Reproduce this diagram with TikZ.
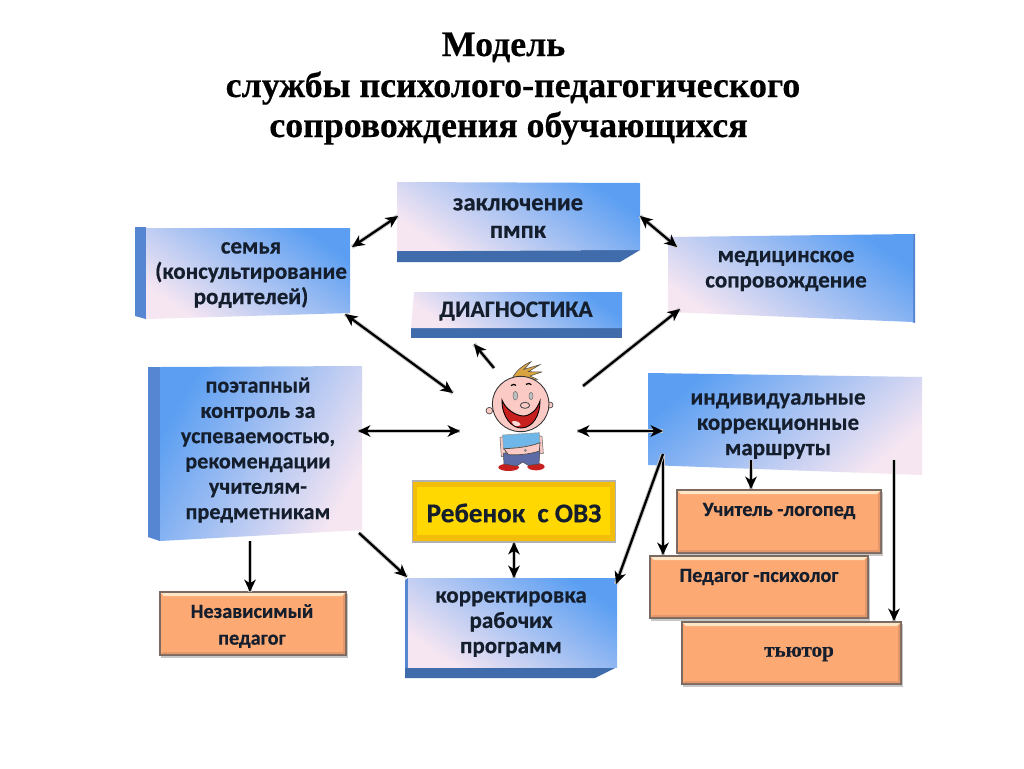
\documentclass[tikz,border=0pt]{standalone}
\usepackage{fontspec}
\setmainfont{Carlito}[BoldFeatures={FakeBold=0.5}]
\newfontfamily\titlefont{Liberation Serif}[BoldFeatures={FakeBold=0.4}]
\definecolor{inkc}{HTML}{141E2D}
\definecolor{bluea}{HTML}{5C9FF2}
\definecolor{blueb}{HTML}{A9CCF3}
\definecolor{bluec}{HTML}{F6E6F2}
\definecolor{stripa}{HTML}{5685D2}
\definecolor{stripb}{HTML}{416CAC}
\definecolor{orangec}{HTML}{FDA974}
\definecolor{orangeb}{HTML}{E4976A}
\definecolor{orangel}{HTML}{FDE6C6}
\definecolor{orangeedge}{HTML}{7A6A62}
\definecolor{yellowa}{HTML}{F2BE0A}
\definecolor{yellowb}{HTML}{FFD802}
\definecolor{skinc}{HTML}{FBCAC4}
\definecolor{hairc}{HTML}{D8A340}
\definecolor{shirtc}{HTML}{6FB7E8}
\definecolor{pantsc}{HTML}{5C6AA6}
\definecolor{shoec}{HTML}{C8201E}
\usetikzlibrary{arrows.meta}
\tikzset{
  labeltext/.style={align=center,font=\fontsize{13.1}{14.4}\selectfont\bfseries,text=inkc,inner sep=0pt},
  smalltext/.style={labeltext,font=\fontsize{11.5}{15.2}\selectfont\bfseries},
  titletext/.style={font=\fontsize{20.4}{22}\selectfont\bfseries\titlefont,text=black,inner sep=0pt,anchor=base},
  gradtr/.style={left color=bluec,middle color=blueb,right color=bluea,shading angle=145},
  gradlr/.style={left color=bluea,middle color=blueb,right color=bluec,shading angle=40},
  gradpoet/.style={left color=bluea,middle color=blueb,right color=bluec,shading angle=60},
  halo/.style={preaction={draw=black!22,line width=2.4pt,-}},
  link/.style={halo,line width=1.3pt,draw=black,-{Stealth[length=7pt,width=6.5pt,inset=2pt]}},
  linkboth/.style={halo,line width=1.3pt,draw=black,{Stealth[length=7pt,width=6.5pt,inset=2pt]}-{Stealth[length=7pt,width=6.5pt,inset=2pt]}},
  stripl/.style={fill=stripa},
  stripd/.style={fill=stripb},
}
\newcommand{\obox}[4]{%
  \fill[black!22] (#1+1,#2+2) rectangle (#3+2,#4+3);
  \fill[orangec,draw=orangeedge,line width=0.8pt] (#1,#2) rectangle (#3,#4);
  \fill[orangeb] (#3-1,#2+1) -- (#3-1,#4-1) -- (#1+1,#4-1) -- (#1+3,#4-3) -- (#3-3,#4-3) -- (#3-3,#2+4) -- cycle;
  \fill[orangel] (#1+1,#2+1) -- (#3-1,#2+1) -- (#3-4,#2+4) -- (#1+4,#2+4) -- cycle;
}
\begin{document}
\begin{tikzpicture}[x=0.02cm,y=-0.02cm]
\useasboundingbox (0,0) rectangle (1024,768);
\fill[white] (0,0) rectangle (1024,768);

% title
\node[titletext] (title1) at (503.5,56) {Модель};
\node[titletext] (title2) at (513,97) {службы психолого-педагогического};
\node[titletext] (title3) at (508.5,137) {сопровождения обучающихся};

% blue boxes
\fill[stripd] (397,251) -- (640,250) -- (620,262) -- (397,262) -- cycle;
\shade[gradtr] (397,182) -- (640,183) -- (640,250) -- (397,251) -- cycle;

\fill[stripl] (135,227) -- (146,227) -- (146,319) -- (135,316) -- cycle;
\shade[gradtr] (146,228) -- (350,228) -- (350,313) -- (146,319) -- cycle;

\fill[stripl] (912,234) -- (915,234) -- (915,323) -- (912,322) -- cycle;
\shade[gradtr] (668,237) -- (913,234) -- (913,322) -- (668,312) -- cycle;

\fill[stripd] (411,328) -- (622,328) -- (622,338) -- (411,338) -- cycle;
\shade[gradtr] (414,292) -- (622,292) -- (622,328) -- (411,328) -- cycle;

\fill[stripl] (148,367) -- (160,367) -- (160,541) -- (148,537) -- cycle;
\shade[gradpoet] (160,367) -- (362,366) -- (362,530) -- (160,541) -- cycle;

\shade[gradlr] (648,373) -- (922,377) -- (922,475) -- (648,465) -- cycle;

\fill[stripd] (405,667) -- (617,667) -- (595,678) -- (405,678) -- cycle;
\fill[stripl] (405,580) -- (408,578) -- (408,668) -- (405,668) -- cycle;
\shade[gradtr] (408,578) -- (617,578) -- (617,667) -- (408,667) -- cycle;

% yellow box
\fill[black!30] (412,480) rectangle (616,543);
\fill[yellowa] (413,482) rectangle (615,541);
\fill[yellowb] (417,487) rectangle (610,535);

% orange boxes
\obox{160}{592}{346}{655}
\obox{677}{490}{881}{553}
\obox{650}{556}{868}{618}
\obox{682}{622}{901}{684}

% labels
\node[labeltext,font=\fontsize{14.0}{15.6}\selectfont\bfseries] (zakl) at (518,218) {заключение\\пмпк};
\node[labeltext] (semya) at (251,275) {семья\\(консультирование\\родителей)};
\node[labeltext] (med) at (786,271) {медицинское\\сопровождение};
\node[labeltext,font=\fontsize{13.4}{16}\selectfont\bfseries] (diag) at (516,311) {ДИАГНОСТИКА};
\node[labeltext,font=\fontsize{12.6}{14.4}\selectfont\bfseries] (poet) at (258,450) {поэтапный\\контроль за\\успеваемостью,\\рекомендации\\учителям-\\предметникам};
\node[labeltext] (indiv) at (778,426) {индивидуальные\\коррекционные\\маршруты};
\node[labeltext,font=\fontsize{15.4}{18}\selectfont\bfseries] (reb) at (514,513) {Ребенок\ \ с ОВЗ};
\node[labeltext] (korr) at (511,624) {корректировка\\рабочих\\программ};
\node[smalltext] (nezav) at (252,626) {Независимый\\педагог};
\node[smalltext] (logo) at (779,511) {Учитель -логопед};
\node[smalltext] (psych) at (759,577) {Педагог -психолог};
\node[font=\fontsize{12}{14}\selectfont\bfseries\titlefont,text=inkc,inner sep=0pt] (tutor) at (799,654) {тьютор};

% child
\coordinate (child) at (521,403);
\begin{scope}[shift={(400,340)},x=0.02cm/3,y=-0.02cm/3]
  % hair
  \fill[hairc,draw=black!70,line width=0.3pt] (338,112) .. controls (350,90) and (370,75) .. (393,65)
    .. controls (380,80) and (378,82) .. (372,88) -- (420,74) -- (385,95) -- (425,96) -- (390,108) -- (412,118) -- (380,118) -- cycle;
  % ears
  \fill[skinc,draw=black!70,line width=0.4pt] (268,212) circle [radius=10];
  \fill[skinc,draw=black!70,line width=0.4pt] (450,195) circle [radius=9];
  % shoes
  \fill[shoec] (326,382) ellipse [x radius=31,y radius=11];
  \fill[shoec] (408,380) ellipse [x radius=26,y radius=11];
  % arms
  \fill[skinc,draw=black!60,line width=0.3pt] (300,292) -- (312,290) -- (318,350) -- (304,350) -- cycle;
  \fill[skinc,draw=black!60,line width=0.3pt] (414,285) -- (426,290) -- (430,340) -- (416,342) -- cycle;
  % trousers
  \fill[pantsc,draw=black!70,line width=0.3pt] (310,340) -- (420,330) -- (417,372) -- (385,376) -- (368,366) -- (350,378) -- (312,372) -- cycle;
  % shirt
  \fill[shirtc,draw=black!40,line width=0.3pt] (308,285) -- (418,278) -- (420,312) -- (310,328) -- cycle;
  % belly
  \fill[skinc,draw=black!70,line width=0.4pt] (312,326) .. controls (350,325) and (390,320) .. (420,308) -- (418,333) .. controls (390,343) and (350,346) .. (325,344) -- cycle;
  \fill[black!45] (376,331) circle [radius=5];
  % head
  \fill[skinc,draw=black!80,line width=0.5pt] (362,192) ellipse [x radius=85,y radius=83];
  % mouth
  \fill[shoec,draw=black,line width=0.5pt] (306,180) .. controls (315,205) and (345,228) .. (372,228)
     .. controls (395,225) and (410,210) .. (420,183)
     .. controls (420,225) and (400,262) .. (365,264)
     .. controls (335,265) and (305,230) .. (306,180) -- cycle;
  \fill[skinc!70!white] (335,245) .. controls (345,240) and (360,245) .. (362,255) .. controls (350,262) and (340,258) .. (335,245) -- cycle;
  % nose
  \draw[black!70,line width=0.5pt,fill=skinc] (375,196) ellipse [x radius=14,y radius=9];
  % eyes
  \fill[black!25,draw=black!55,line width=0.3pt] (346,167) ellipse [x radius=7,y radius=13];
  \fill[black!25,draw=black!55,line width=0.3pt] (393,168) ellipse [x radius=6,y radius=11];
  % brows
  \draw[black,line width=0.7pt] (333,137) .. controls (338,132) and (344,132) .. (348,136);
  \draw[black,line width=0.7pt] (378,133) .. controls (384,129) and (390,130) .. (394,134);
\end{scope}

% connector ends
\coordinate (e1a) at (352,247); \coordinate (e1b) at (398,216);
\coordinate (e2a) at (640,216); \coordinate (e2b) at (677,247);
\coordinate (e3a) at (345,314); \coordinate (e3b) at (453,393);
\coordinate (e4a) at (494,368); \coordinate (e4b) at (474,344);
\coordinate (e5a) at (583,386); \coordinate (e5b) at (680,309);
\coordinate (e6a) at (358,431); \coordinate (e6b) at (460,431);
\coordinate (e7a) at (577,431); \coordinate (e7b) at (663,431);
\coordinate (e8a) at (751,460); \coordinate (e8b) at (751,489);
\coordinate (e9a) at (663,454); \coordinate (e9b) at (663,555);
\coordinate (e10b) at (616,584);
\coordinate (e11a) at (894,460); \coordinate (e11b) at (894,621);
\coordinate (e12a) at (250,541); \coordinate (e12b) at (250,592);
\coordinate (e13a) at (359,533); \coordinate (e13b) at (407,577);
\coordinate (e14a) at (514,542); \coordinate (e14b) at (514,578);

\draw[linkboth] (e1a) -- (e1b);
\draw[linkboth] (e2a) -- (e2b);
\draw[linkboth] (e3a) -- (e3b);
\draw[link] (e4a) -- (e4b);
\draw[link] (e5a) -- (e5b);
\draw[linkboth] (e6a) -- (e6b);
\draw[linkboth] (e7a) -- (e7b);
\draw[link] (e8a) -- (e8b);
\draw[link] (e9a) -- (e9b);
\draw[link] (e9a) -- (e10b);
\draw[link] (e11a) -- (e11b);
\draw[link] (e12a) -- (e12b);
\draw[link] (e13a) -- (e13b);
\draw[linkboth] (e14a) -- (e14b);
\end{tikzpicture}
\end{document}
